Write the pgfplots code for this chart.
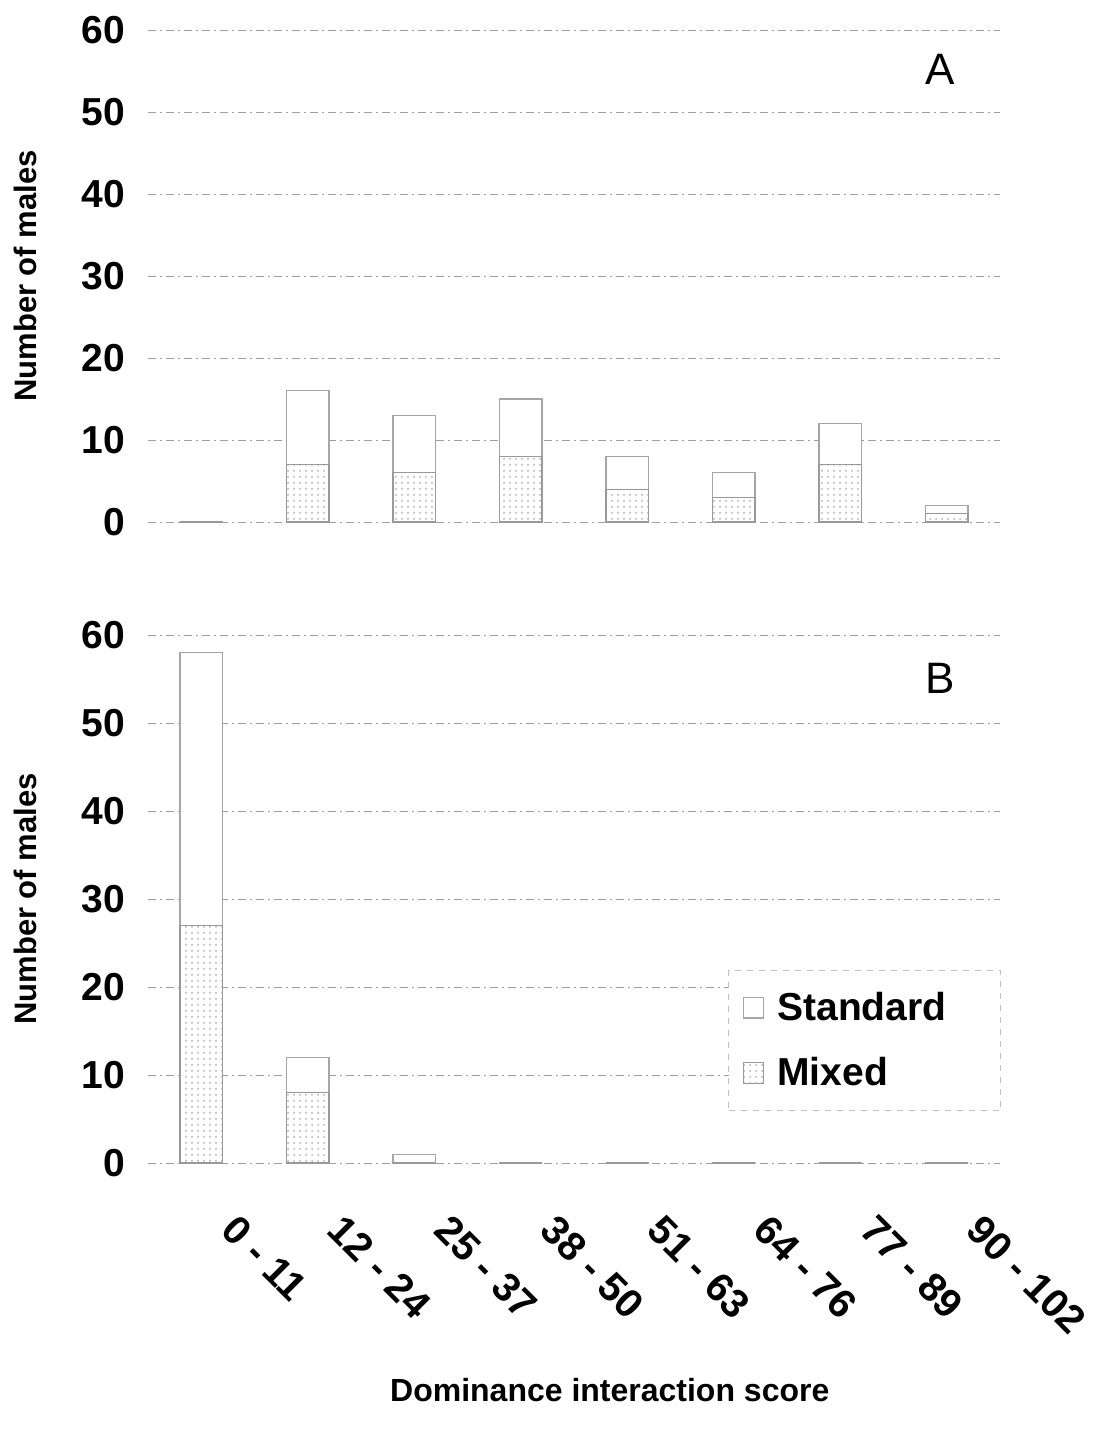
\documentclass[border=0pt]{standalone}
\usepackage{pgfplots}
\pgfplotsset{compat=1.18}
\usepackage{fontspec}
\setmainfont{Liberation Sans}
\usetikzlibrary{patterns}
\begin{document}
\begin{tikzpicture}
\path[use as bounding box] (-74pt,-454.5pt) rectangle (474.5pt,261pt);
\pgfplotsset{
  panel/.style={
    scale only axis,
    width=426pt,
    xmin=-0.5, xmax=7.5,
    ymin=0, ymax=60,
    ytick={0,10,...,60},
    xtick={0,...,7},
    axis line style={draw=none},
    major tick length=0pt,
    ymajorgrids,
    grid style={gray!75, dash pattern=on 4pt off 2pt on 1pt off 2pt, line width=0.5pt},
    /pgf/number format/assume math mode=true,
    yticklabel style={font=\fontsize{19.5}{19.5}\selectfont\bfseries, xshift=-8pt},
    ylabel={Number of males},
    every axis y label/.style={at={(axis description cs:-0.144,0.5)}, rotate=90, anchor=center,
       font=\fontsize{15.5}{17}\selectfont\bfseries},
    ybar, bar width=0.4, bar shift=0pt,
    clip=false,
  },
  stdbar/.style={draw=gray!70, fill=white, line width=0.6pt},
  mixbar/.style={draw=gray!80, pattern=dots, pattern color=gray!60, line width=0.6pt},
}
% Panel A
\begin{axis}[panel, height=246pt, at={(0pt,0pt)}, anchor=south west, xticklabels={}]
\addplot[stdbar] coordinates {(0,0) (1,16) (2,13) (3,15) (4,8) (5,6) (6,12) (7,2)};
\addplot[mixbar] coordinates {(0,0) (1,7) (2,6) (3,8) (4,4) (5,3) (6,7) (7,1)};
\node[font=\fontsize{22}{22}\selectfont] at (axis description cs:0.93,0.919) {A};
\end{axis}
% Panel B
\begin{axis}[panel, height=264pt, at={(0pt,-320.5pt)}, anchor=south west,
  xticklabels={0 - 11,12 - 24,25 - 37,38 - 50,51 - 63,64 - 76,77 - 89,90 - 102},
  xticklabel style={font=\fontsize{20}{20}\selectfont\bfseries, xshift=19pt, yshift=-20pt, rotate=-45, anchor=north west},
  xlabel={Dominance interaction score},
  every axis x label/.style={at={(axis description cs:0.542,-0.43)}, anchor=center,
     font=\fontsize{16}{18}\selectfont\bfseries},
  legend style={at={(axis description cs:0.681,0.366)}, anchor=north west, draw=gray!50, dashed,
     font=\fontsize{19.5}{21}\selectfont\bfseries, inner xsep=7pt, inner ysep=9pt, row sep=13pt},
  legend cell align=left,
  legend image code/.code={\draw[#1, solid] (0cm,-0.18cm) rectangle (0.36cm,0.18cm); \path (0.52cm,0cm);},
]
\addplot[stdbar] coordinates {(0,58) (1,12) (2,1) (3,0) (4,0) (5,0) (6,0) (7,0)};
\addlegendentry{Standard\hspace*{18pt}}
\addplot[mixbar] coordinates {(0,27) (1,8) (2,0) (3,0) (4,0) (5,0) (6,0) (7,0)};
\addlegendentry{Mixed}
\node[font=\fontsize{22}{22}\selectfont] at (axis description cs:0.93,0.918) {B};
\end{axis}
\end{tikzpicture}
\end{document}
